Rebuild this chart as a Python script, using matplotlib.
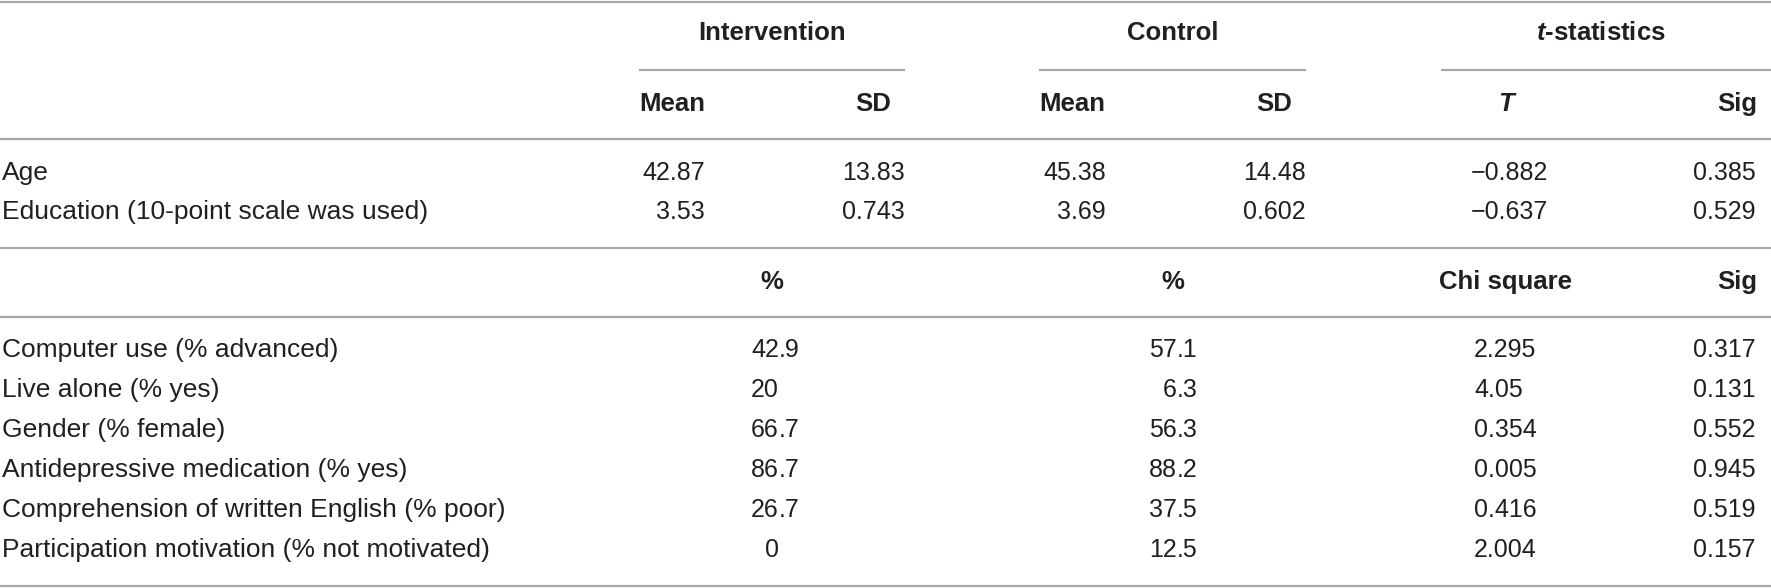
import matplotlib
matplotlib.use("Agg")
import matplotlib.pyplot as plt

plt.rcParams['font.family'] = ['Liberation Sans', 'DejaVu Sans']
plt.rcParams['mathtext.fontset'] = 'custom'
plt.rcParams['mathtext.bfit'] = 'Liberation Sans:bold:italic'
plt.rcParams['mathtext.rm'] = 'Liberation Sans:bold'

# continuous variables (t-test block)
cont_labels = ["Age", "Education (10-point scale was used)"]
int_mean = ["42.87", "3.53"]
int_sd = ["13.83", "0.743"]
ctl_mean = ["45.38", "3.69"]
ctl_sd = ["14.48", "0.602"]
t_vals = ["\u22120.882", "\u22120.637"]
t_sig = ["0.385", "0.529"]

# categorical variables (chi square block)
cat_labels = ["Computer use (% advanced)", "Live alone (% yes)", "Gender (% female)",
              "Antidepressive medication (% yes)", "Comprehension of written English (% poor)",
              "Participation motivation (% not motivated)"]
int_pct = ["42.9", "20", "66.7", "86.7", "26.7", "0"]
ctl_pct = ["57.1", "6.3", "56.3", "88.2", "37.5", "12.5"]
chi_vals = ["2.295", "4.05", "0.354", "0.005", "0.416", "2.004"]
chi_sig = ["0.317", "0.131", "0.552", "0.945", "0.519", "0.157"]

W, H = 1771, 588
fig = plt.figure(figsize=(W / 100, H / 100), dpi=100)
ax = fig.add_axes([0, 0, 1, 1])
ax.set_xlim(0, W)
ax.set_ylim(H, 0)
ax.axis('off')

fs = 18
fs_lab = 19
txt = '#231f20'
line_c = '#a8a8a8'
lw = 1.6


def hline(y, x0=0, x1=W):
    ax.plot([x0, x1], [y, y], color=line_c, lw=lw, solid_capstyle='butt')


def t(x, y, s, ha='left', bold=False, italic=False, size=fs):
    ax.text(x, y, s, ha=ha, va='center', fontsize=size, color=txt,
            fontweight='bold' if bold else 'normal',
            fontstyle='italic' if italic else 'normal')


def dec(x, y, s):
    # decimal-aligned number: integer part ends at x
    if '.' in s:
        a, b = s.split('.')
        t(x, y, a, ha='right')
        t(x, y, '.' + b, ha='left')
    else:
        t(x, y, s, ha='right')


# rules
hline(2)
hline(70, 639, 905)
hline(70, 1039, 1306)
hline(70, 1441, W)
hline(139)
hline(248)
hline(317)
hline(586)

# group headers
t(772, 33, "Intervention", ha='center', bold=True, size=18.5)
t(1173, 33, "Control", ha='center', bold=True, size=18.5)
t(1601, 33, r"$\mathbfit{t}$-statistics", ha='center', bold=True, size=18.5)

# sub headers
t(639, 104, "Mean", bold=True, size=18.5)
t(891, 104, "SD", ha='right', bold=True, size=18.5)
t(1039, 104, "Mean", bold=True, size=18.5)
t(1292, 104, "SD", ha='right', bold=True, size=18.5)
t(1506, 104, "T", ha='center', bold=True, italic=True, size=18.5)
t(1757, 104, "Sig", ha='right', bold=True, size=18.5)

row_y = [173, 212]
for i, lab in enumerate(cont_labels):
    y = row_y[i]
    t(2, y, lab, size=fs_lab)
    t(705, y, int_mean[i], ha='right')
    t(905, y, int_sd[i], ha='right')
    t(1106, y, ctl_mean[i], ha='right')
    t(1306, y, ctl_sd[i], ha='right')
    t(1548, y, t_vals[i], ha='right')
    t(1756, y, t_sig[i], ha='right')

# second header row
t(772, 282, "%", ha='center', bold=True, size=18.5)
t(1173, 282, "%", ha='center', bold=True, size=18.5)
t(1506, 282, "Chi square", ha='center', bold=True, size=18.5)
t(1757, 282, "Sig", ha='right', bold=True, size=18.5)

cat_y = [350, 390, 430, 470, 510, 550]
for i, lab in enumerate(cat_labels):
    y = cat_y[i]
    t(2, y, lab, size=fs_lab)
    dec(779, y, int_pct[i])
    dec(1177, y, ctl_pct[i])
    t(1474, y, chi_vals[i])
    t(1756, y, chi_sig[i], ha='right')

fig.savefig("out.png", dpi=100)
